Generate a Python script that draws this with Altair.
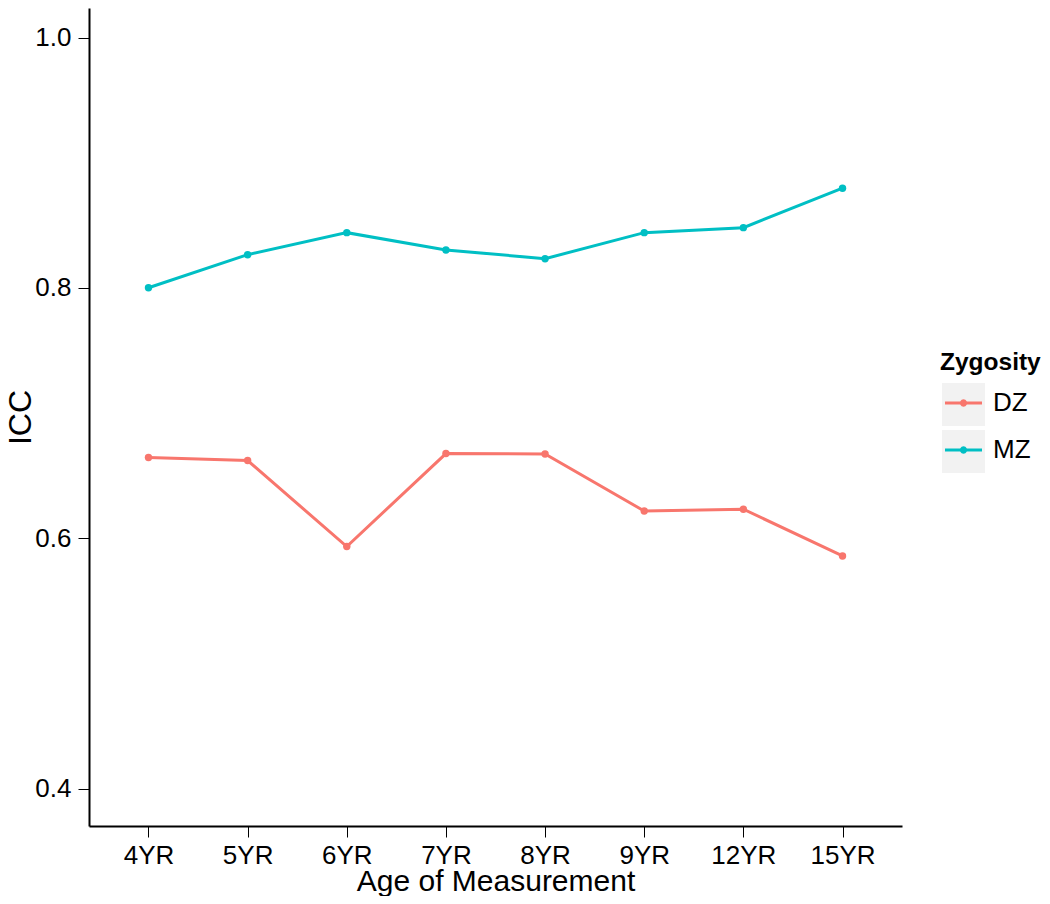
import altair as alt
import pandas as pd

ages = ["4YR", "5YR", "6YR", "7YR", "8YR", "9YR", "12YR", "15YR"]
dz_icc = [0.6645, 0.6621, 0.5934, 0.6677, 0.6674, 0.6218, 0.6232, 0.5859]
mz_icc = [0.8002, 0.8266, 0.8442, 0.8304, 0.8234, 0.8442, 0.8482, 0.8797]
colors = ["#F8766D", "#00BFC4"]          # DZ, MZ (alphabetical order)
box_grey = ["#F2F2F2", "#F2F2F2"]

df = pd.DataFrame({
    "Age": ages * 2,
    "ICC": dz_icc + mz_icc,
    "Zygosity": ["DZ"] * len(ages) + ["MZ"] * len(ages),
})

FONT = "Liberation Sans"

x = alt.X("Age:N", sort=ages, title="Age of Measurement",
          scale=alt.Scale(type="point", padding=0.6),
          axis=alt.Axis(labelAngle=0, labelFontSize=26, titleFontSize=30,
                        tickSize=11, labelPadding=5, titlePadding=-2,
                        titleFontWeight="normal"))
y = alt.Y("ICC:Q", title="ICC",
          scale=alt.Scale(domain=[0.3701, 1.0237], nice=False, zero=False),
          axis=alt.Axis(values=[0.4, 0.6, 0.8, 1.0], format=".1f",
                        labelFontSize=26, titleFontSize=32, tickSize=11,
                        labelPadding=7, titlePadding=-3,
                        titleFontWeight="normal"))

common_leg = dict(orient="none", padding=0, clipHeight=43, rowPadding=4,
                  labelFontSize=26, labelFont=FONT)

lines = alt.Chart(df).mark_line(strokeWidth=3, clip=True).encode(
    x=x, y=y,
    stroke=alt.Stroke("Zygosity:N", scale=alt.Scale(range=colors), legend=None),
)

# grey key backgrounds (drawn first, no title, no label text)
legA = dict(common_leg)
legA.update(legendX=853, legendY=375, title=None, symbolType="square",
            symbolSize=1849, symbolFillColor="#F2F2F2",
            symbolStrokeColor="#F2F2F2", symbolStrokeWidth=0,
            symbolOpacity=1, labelExpr="''")
boxes = alt.Chart(df).transform_calculate(
    BoxKey="datum.Zygosity + '_box'").mark_point(
    filled=True, opacity=0).encode(
    x=x, y=y,
    color=alt.Color("BoxKey:N", scale=alt.Scale(range=box_grey),
                    legend=alt.Legend(**legA)),
)

# line + dot keys with title and labels (drawn on top)
KEY_PATH = ("M-1,-0.08L1,-0.08L1,0.08L-1,0.08Z"
            "M0.2,0L0.1732,0.1L0.1,0.1732L0,0.2L-0.1,0.1732L-0.1732,0.1"
            "L-0.2,0L-0.1732,-0.1L-0.1,-0.1732L0,-0.2L0.1,-0.1732L0.1732,-0.1Z")
legB = dict(common_leg)
legB.update(legendX=851, legendY=343, title="Zygosity", titleFontSize=24.5,
            titleFontWeight="bold", titleFont=FONT, titlePadding=6,
            titleColor="black", symbolType=KEY_PATH, symbolSize=1369,
            symbolOffset=5, symbolStrokeWidth=0, symbolOpacity=1,
            labelOffset=11, labelColor="black")
points = alt.Chart(df).mark_circle(size=55, opacity=1, clip=True).encode(
    x=x, y=y,
    fill=alt.Fill("Zygosity:N", scale=alt.Scale(range=colors),
                  legend=alt.Legend(**legB)),
)

chart = alt.layer(boxes, lines, points).properties(
    width=813, height=818,
    autosize=alt.AutoSizeParams(type="none"),
    padding={"left": 81, "top": 0, "right": 140, "bottom": 70},
).configure(font=FONT).configure_view(strokeWidth=0).configure_axis(
    grid=False, domainColor="black", domainWidth=2, tickColor="black",
    tickWidth=1, labelColor="black", titleColor="black", labelFont=FONT,
    titleFont=FONT,
)

chart.save("out.html", embed_options={"renderer": "svg", "actions": False})
